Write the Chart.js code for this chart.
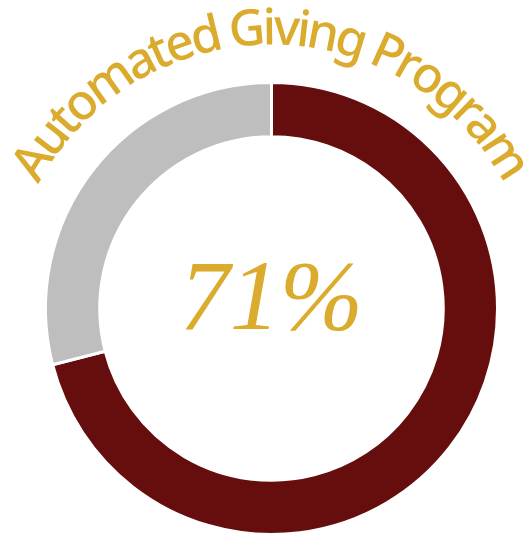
<!DOCTYPE html>
<html>
<head>
<meta charset="utf-8">
<script src="https://cdn.jsdelivr.net/npm/chart.js@4/dist/chart.umd.min.js"></script>
<style>
  html, body { margin: 0; padding: 0; background: #fff; overflow: hidden; }
  #wrap { position: relative; width: 532px; height: 540px; }
</style>
</head>
<body>
<div id="wrap"><canvas id="chart"></canvas></div>
<script>
// Participation share
const TITLE = "Automated Giving Program";
const labels = ["Enrolled", "Not enrolled"];
const values = [71, 29];
const colors = ["#660D0E", "#BEBEBE"];
const GOLD = "#DAAB2C";

// Curved title above the ring + big percentage in the hole
const ringText = {
  id: "ringText",
  afterDraw(chart) {
    const arc = chart.getDatasetMeta(0).data[0];
    const { x: cx, y: cy, outerRadius } = arc.getProps(["x", "y", "outerRadius"], true);
    const ctx = chart.ctx;
    ctx.save();
    ctx.fillStyle = GOLD;

    // title along an arc
    ctx.font = "500 50px 'Noto Sans', sans-serif";
    const r = outerRadius + 38;
    const span = (124 * Math.PI) / 180;
    const widths = [...TITLE].map((ch) => ctx.measureText(ch).width);
    const total = widths.reduce((a, b) => a + b, 0);
    const extra = (span * r - total) / (TITLE.length - 1);
    let ang = -span / 2;
    ctx.textAlign = "center";
    ctx.textBaseline = "alphabetic";
    [...TITLE].forEach((ch, i) => {
      const w = widths[i];
      const a = ang + w / 2 / r;
      ctx.save();
      ctx.translate(cx + r * Math.sin(a), cy - r * Math.cos(a));
      ctx.rotate(a);
      ctx.fillText(ch, 0, 0);
      ctx.restore();
      ang += (w + extra) / r;
    });

    // centre percentage
    ctx.font = "italic 300 100px 'Liberation Serif', serif";
    ctx.textAlign = "center";
    ctx.textBaseline = "middle";
    ctx.fillText(values[0] + "%", cx, cy - 6);
    ctx.restore();
  },
};

new Chart(document.getElementById("chart"), {
  type: "doughnut",
  data: {
    labels,
    datasets: [
      {
        data: values,
        backgroundColor: colors,
        borderColor: "#ffffff",
        borderWidth: 3,
      },
    ],
  },
  options: {
    responsive: true,
    maintainAspectRatio: false,
    animation: false,
    cutout: "76%",
    layout: { padding: { top: 81, left: 43, right: 32, bottom: 4 } },
    plugins: {
      legend: { display: false },
      tooltip: { enabled: false },
    },
  },
  plugins: [ringText],
});
</script>
</body>
</html>
